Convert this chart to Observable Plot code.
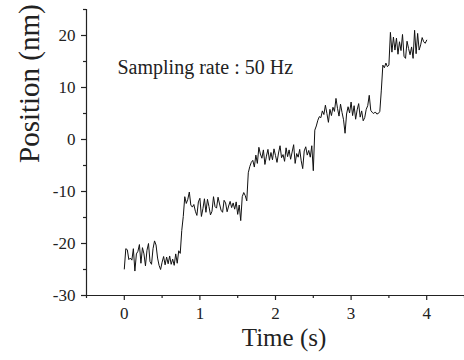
<!DOCTYPE html>
<html>
<head>
<meta charset="utf-8">
<script src="https://cdn.jsdelivr.net/npm/d3@7"></script>
<script src="https://cdn.jsdelivr.net/npm/@observablehq/plot@0.6"></script>
<style>
  html, body { margin: 0; padding: 0; background: #fff; }
  svg text { font-family: "Liberation Serif", "Times New Roman", serif !important; font-variant-numeric: normal !important; }
</style>
</head>
<body>
<div id="chart"></div>
<script>
const sampleRate = 50; // Hz
const position = [
  -24.9, -21.0, -21.2, -23.1, -22.8, -23.2, -21.0, -25.3, -22.0, -21.5,
  -20.2, -23.8, -20.8, -22.0, -24.3, -21.3, -20.0, -23.5, -24.0, -21.0,
  -19.5, -20.3, -22.8, -24.2, -25.0, -23.6, -22.5, -24.1, -22.6, -23.9,
  -22.4, -24.0, -23.0, -24.2, -22.0, -23.8, -21.4, -21.9, -17.5, -14.8,
  -11.0, -12.3, -11.5, -10.1, -12.6, -13.0, -12.5, -13.8, -14.6, -12.0,
  -11.3, -14.8, -13.3, -11.4, -14.0, -11.5, -12.9, -14.5, -13.8, -11.0,
  -12.9, -13.2, -11.1, -12.4, -13.6, -14.0, -11.7, -12.2, -13.9, -12.8,
  -11.9, -13.1, -12.2, -13.4, -12.0, -14.4, -12.6, -15.6, -11.0, -10.2,
  -10.8, -11.8, -6.4, -5.2, -4.4, -4.0, -5.3, -3.0, -4.6, -1.5,
  -2.8, -3.6, -2.0, -4.8, -3.2, -1.9, -4.0, -2.5, -3.9, -1.8,
  -3.1, -4.4, -2.6, -1.2, -3.5, -2.9, -4.2, -1.6, -3.3, -2.0,
  -3.8, -2.4, -1.0, -4.6, -2.7, -3.4, -1.9, -4.1, -5.6, -2.2,
  -1.4, -3.0, -2.1, -3.4, -1.2, -6.0, 1.8, 2.6, 3.7, 4.4,
  4.2, 5.5, 4.8, 6.6, 5.0, 3.3, 5.8, 4.6, 6.2, 5.4,
  7.9, 6.0, 4.5, 6.8, 5.2, 3.8, 1.2, 4.9, 6.3, 5.1,
  7.2, 4.6, 6.5, 3.9, 5.7, 6.9, 4.3, 5.5, 3.6, 4.2,
  5.8, 6.5, 8.5, 5.6, 5.2, 5.0, 5.3, 4.9, 5.0, 5.4,
  9.5, 14.3, 13.8, 14.7, 14.0, 14.3, 20.6, 16.8, 19.7, 17.2,
  19.5, 16.4, 18.8, 17.1, 20.2, 16.0, 15.6, 18.9, 17.5, 16.3,
  17.8, 15.6, 21.0, 16.5, 20.4, 17.2, 18.2, 19.6, 18.8, 18.5,
  19.1
];
const xMajorTicks = [0, 1, 2, 3, 4];
const xMinorTicks = [-0.5, 0.5, 1.5, 2.5, 3.5, 4.5];
const yMajorTicks = [-30, -20, -10, 0, 10, 20];
const yMinorTicks = [-25, -15, -5, 5, 15, 25];
const annotation = "Sampling rate : 50 Hz";
const xLabel = "Time (s)";
const yLabel = "Position (nm)";

const data = position.map((p, i) => ({t: i / sampleRate, p}));
const serif = "Liberation Serif";

const chart = Plot.plot({
  width: 464,
  height: 360,
  marginLeft: 86,
  marginRight: 0,
  marginTop: 9,
  marginBottom: 65,
  style: {fontFamily: serif, fontSize: "17px", color: "#222", background: "#fff"},
  x: {domain: [-0.5, 4.5]},
  y: {domain: [-30, 25]},
  marks: [
    Plot.ruleX([-0.5], {stroke: "#222", strokeWidth: 1.2}),
    Plot.ruleY([-30], {stroke: "#222", strokeWidth: 1.2}),
    Plot.axisX(xMajorTicks, {tickSize: 5, tickPadding: 6, stroke: "#222", strokeWidth: 1.2, label: null, tickFormat: d => String(d), fontSize: 17, fontFamily: serif}),
    Plot.axisX(xMinorTicks, {tickSize: 3, stroke: "#222", strokeWidth: 1.2, label: null, text: null}),
    Plot.axisY(yMajorTicks, {tickSize: 5, tickPadding: 6, stroke: "#222", strokeWidth: 1.2, label: null, tickFormat: d => String(d), fontSize: 17, fontFamily: serif}),
    Plot.axisY(yMinorTicks, {tickSize: 3, stroke: "#222", strokeWidth: 1.2, label: null, text: null}),
    Plot.line(data, {x: "t", y: "p", stroke: "#111", strokeWidth: 1}),
    Plot.text([annotation], {x: -0.09, y: 13.9, text: d => d, textAnchor: "start", fontSize: 20, fontFamily: serif, fill: "#222"}),
    Plot.text([xLabel], {frameAnchor: "bottom", dy: 50, dx: 8.5, text: d => d, fontSize: 25, fontFamily: serif, fill: "#222"}),
    Plot.text([yLabel], {frameAnchor: "left", dx: -57, dy: 10.5, rotate: -90, text: d => d, fontSize: 29, fontFamily: serif, fill: "#222"})
  ]
});
document.getElementById("chart").appendChild(chart);
</script>
</body>
</html>
